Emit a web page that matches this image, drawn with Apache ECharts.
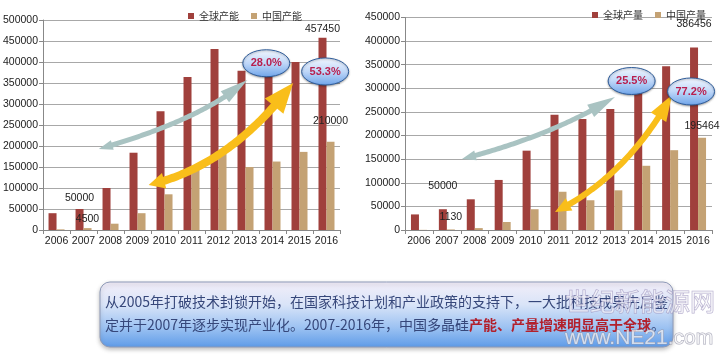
<!DOCTYPE html>
<html><head><meta charset="utf-8">
<script src="https://cdn.jsdelivr.net/npm/echarts@6/dist/echarts.min.js"></script>
<style>html,body{margin:0;padding:0;background:#fff}#c{width:720px;height:363px}</style>
</head><body><div id="c"></div>
<script>
// ---------- data ----------
const years = ['2006','2007','2008','2009','2010','2011','2012','2013','2014','2015','2016'];
const globalCapacity = [40000, 50000, 100000, 184000, 283000, 364000, 431000, 379000, 385000, 400000, 457450];
const chinaCapacity  = [1500, 4500, 15000, 40000, 85000, 145000, 190000, 150000, 163000, 186000, 210000];
const globalOutput   = [33000, 44000, 65000, 106000, 168000, 244000, 235000, 256000, 302000, 347000, 386456];
const chinaOutput    = [300, 1130, 4000, 17000, 44000, 81000, 63000, 84000, 136000, 169000, 195464];
// data-label texts shown in the picture (index -> text)
const globalCapacityLabels = {1:'50000', 10:'457450'};
const chinaCapacityLabels  = {1:'4500', 10:'210000'};
const globalOutputLabels   = {1:'50000', 10:'386456'};
const chinaOutputLabels    = {1:'1130', 10:'195464'};
const leftAxis  = {min:0, max:500000, interval:50000};
const rightAxis = {min:0, max:450000, interval:50000};
// annotations in data space [category index, value]
const ellipseNotes = [
  {grid:0, at:[7.77, 397000], text:'28.0%'},
  {grid:0, at:[9.95, 377400], text:'53.3%'},
  {grid:1, at:[7.62, 315500], text:'25.5%'},
  {grid:1, at:[9.75, 293300], text:'77.2%'}
];
const arrowNotes = [
  {grid:0, kind:'gray',   pts:[[1.567,192900],[5.388,263100],[7.068,357100]]},
  {grid:0, kind:'yellow', pts:[[3.413,107100],[6.421,152400],[8.765,350000]]},
  {grid:1, kind:'gray',   pts:[[1.542,150350],[4.749,199050],[7.024,281640]]},
  {grid:1, kind:'yellowR',pts:[[4.874,38120],[7.436,113290],[9.066,285880]]}
];
const boxLine1 = '从2005年打破技术封锁开始，在国家科技计划和产业政策的支持下，一大批科技成果先后鉴';
const boxLine2a = '定并于2007年逐步实现产业化。2007-2016年，中国多晶硅';
const boxLine2b = '产能、产量增速明显高于全球';
const boxLine2c = '。';

// ---------- styles ----------
const MAROON = '#A0403C', TAN = '#C4A274';
const labelDist = {g:[5,3], c:[4,15], go:[18,18], co:[7,6]};
const arrowStyle = {
  gray:   {color:'#A9C3C2', w:5, head:[28,14], tail:[14,10]},
  yellow: {color:'#F9BE1A', w:8, head:[30,24], tail:[16,16]},
  yellowR:{color:'#F9BE1A', w:6, head:[26,18], tail:[16,14]}
};
const FONT = '"Liberation Sans", Arial, sans-serif';
const CJK = '"Noto Sans CJK SC", sans-serif';

function items(values, labels, dists) {
  return values.map((v, i) => {
    if (labels[i] === undefined) return v;
    const d = (i === 10) ? dists[1] : dists[0];
    return {value: v, label: {show: true, position: 'top', distance: d,
      formatter: labels[i], fontSize: 10.5, color: '#222', fontFamily: FONT}};
  });
}
function yAx(g, ax) {
  return {type:'value', gridIndex:g, min:ax.min, max:ax.max, interval:ax.interval,
    axisLine:{show:true, lineStyle:{color:'#888'}},
    axisTick:{show:true, length:4, lineStyle:{color:'#888'}},
    axisLabel:{fontSize:10.5, color:'#222', fontFamily:FONT, margin:5, formatter: v => String(v)},
    splitLine:{show:true, lineStyle:{color:'#A8A8A8'}}};
}
function xAx(g) {
  return {type:'category', gridIndex:g, data:years,
    axisLine:{show:true, lineStyle:{color:'#888'}},
    axisTick:{show:true, length:4, lineStyle:{color:'#888'}},
    axisLabel:{fontSize:10.5, color:'#222', fontFamily:FONT, margin:6, interval:0}};
}
function bar(name, g, data, color) {
  return {type:'bar', name, xAxisIndex:g, yAxisIndex:g, data, barWidth:8, barGap:'0%',
    itemStyle:{color}, emphasis:{disabled:true}};
}

const chart = echarts.init(document.getElementById('c'), null, {renderer:'canvas'});
const option = {
  animation:false,
  backgroundColor:'#fff',
  grid:[
    {left:42, top:20, width:298, height:210},
    {left:405, top:17.5, width:307, height:212.5}
  ],
  legend:[
    {data:['全球产能','中国产能'], left:183, top:6, itemWidth:6, itemHeight:6, itemGap:12, icon:'rect',
     textStyle:{fontSize:10, color:'#333', fontFamily:CJK}},
    {data:['全球产量','中国产量'], left:587, top:5, itemWidth:6, itemHeight:6, itemGap:12, icon:'rect',
     textStyle:{fontSize:10, color:'#333', fontFamily:CJK}}
  ],
  xAxis:[xAx(0), xAx(1)],
  yAxis:[yAx(0, leftAxis), yAx(1, rightAxis)],
  series:[
    bar('全球产能', 0, items(globalCapacity, globalCapacityLabels, labelDist.g), MAROON),
    bar('中国产能', 0, items(chinaCapacity, chinaCapacityLabels, labelDist.c), TAN),
    bar('全球产量', 1, items(globalOutput, globalOutputLabels, labelDist.go), MAROON),
    bar('中国产量', 1, items(chinaOutput, chinaOutputLabels, labelDist.co), TAN)
  ]
};
chart.setOption(option);

// ---------- annotations mapped through the axes ----------
function mapper(g, max) {
  const a = chart.convertToPixel({xAxisIndex:g, yAxisIndex:g}, [0, 0]);
  const b = chart.convertToPixel({xAxisIndex:g, yAxisIndex:g}, [10, max]);
  return p => [a[0] + p[0]*(b[0]-a[0])/10, a[1] + p[1]*(b[1]-a[1])/max];
}
const maps = [mapper(0, leftAxis.max), mapper(1, rightAxis.max)];
const graphics = [];

function quad(P0, C, P2, t) {
  const u = 1 - t;
  return [u*u*P0[0] + 2*u*t*C[0] + t*t*P2[0], u*u*P0[1] + 2*u*t*C[1] + t*t*P2[1]];
}
function norm(v) { const l = Math.hypot(v[0], v[1]) || 1; return [v[0]/l, v[1]/l]; }
function headPoly(tip, back, L, W) {
  const d = norm([tip[0]-back[0], tip[1]-back[1]]);
  const n = [-d[1], d[0]];
  const base = [tip[0]-d[0]*L, tip[1]-d[1]*L];
  return [tip, [base[0]+n[0]*W/2, base[1]+n[1]*W/2], [base[0]-n[0]*W/2, base[1]-n[1]*W/2]];
}
arrowNotes.forEach(a => {
  const st = arrowStyle[a.kind];
  const m = maps[a.grid];
  const P0 = m(a.pts[0]), C = m(a.pts[1]), P2 = m(a.pts[2]);
  const N = 80, pts = [], cum = [0];
  for (let k = 0; k <= N; k++) pts.push(quad(P0, C, P2, k/N));
  for (let k = 1; k <= N; k++) cum.push(cum[k-1] + Math.hypot(pts[k][0]-pts[k-1][0], pts[k][1]-pts[k-1][1]));
  const total = cum[N];
  const at = len => { let k = 0; while (k < N && cum[k] < len) k++; return pts[k]; };
  const shaft = pts.filter((p, k) => cum[k] >= st.tail[0]*0.7 && cum[k] <= total - st.head[0]*0.7);
  graphics.push({type:'polyline', z:50, shape:{points:shaft},
    style:{stroke:st.color, lineWidth:st.w, fill:null, lineJoin:'round'}});
  graphics.push({type:'polygon', z:50, shape:{points:headPoly(P2, at(total - st.head[0]), st.head[0], st.head[1])},
    style:{fill:st.color}});
  graphics.push({type:'polygon', z:50, shape:{points:headPoly(P0, at(st.tail[0]), st.tail[0], st.tail[1])},
    style:{fill:st.color}});
});
ellipseNotes.forEach(e => {
  const p = maps[e.grid](e.at);
  graphics.push({type:'ellipse', z:60, shape:{cx:p[0], cy:p[1], rx:23.5, ry:13.5},
    style:{fill:new echarts.graphic.LinearGradient(0,0,0,1,[{offset:0,color:'#F4F8FF'},{offset:0.5,color:'#BFD7F8'},{offset:1,color:'#6EA4EA'}]),
      stroke:'#2E5C9A', lineWidth:1, shadowBlur:2, shadowColor:'rgba(0,0,0,0.3)', shadowOffsetY:1}});
  graphics.push({type:'text', z:61, x:p[0], y:p[1],
    style:{text:e.text, fill:'#B81F4E', fontSize:11, fontWeight:'bold', fontFamily:FONT,
      align:'center', textAlign:'center', verticalAlign:'middle', textVerticalAlign:'middle'}});
});

// ---------- bottom text box ----------
graphics.push({type:'rect', z:10, shape:{x:100, y:282, width:573, height:65, r:10},
  style:{fill:new echarts.graphic.LinearGradient(0,0,0,1,[
      {offset:0,color:'#F3EEF9'},{offset:0.35,color:'#D9E4F8'},{offset:0.7,color:'#9CC2F2'},{offset:1,color:'#5E9BE8'}]),
    stroke:'#8E9AB8', lineWidth:1, shadowBlur:4, shadowColor:'rgba(0,0,0,0.25)', shadowOffsetY:2}});
graphics.push({type:'text', z:11, x:105, y:302,
  style:{text:boxLine1, fill:'#36477A', fontSize:14, fontFamily:CJK, verticalAlign:'middle', textVerticalAlign:'middle'}});
graphics.push({type:'text', z:11, x:105, y:325,
  style:{text:'{a|' + boxLine2a + '}{r|' + boxLine2b + '}{a|' + boxLine2c + '}',
    verticalAlign:'middle', textVerticalAlign:'middle',
    rich:{a:{fill:'#36477A', color:'#36477A', fontSize:14, fontFamily:CJK},
          r:{fill:'#B2202C', color:'#B2202C', fontSize:14, fontFamily:CJK, fontWeight:'bold'}}}});
// watermark
graphics.push({type:'text', z:12, x:565, y:301,
  style:{text:'世纪新能源网', fontSize:25, fontFamily:CJK, fill:'rgba(255,255,255,0.55)', stroke:'rgba(150,140,185,0.7)', lineWidth:1,
    verticalAlign:'middle', textVerticalAlign:'middle'}});
graphics.push({type:'text', z:12, x:565, y:338,
  style:{text:'www.NE21.com', fontSize:21, fontFamily:FONT, fill:'rgba(255,255,255,0.65)', stroke:'rgba(150,150,170,0.8)', lineWidth:1,
    verticalAlign:'middle', textVerticalAlign:'middle'}});

chart.setOption({graphic:{elements:graphics}});
</script></body></html>
